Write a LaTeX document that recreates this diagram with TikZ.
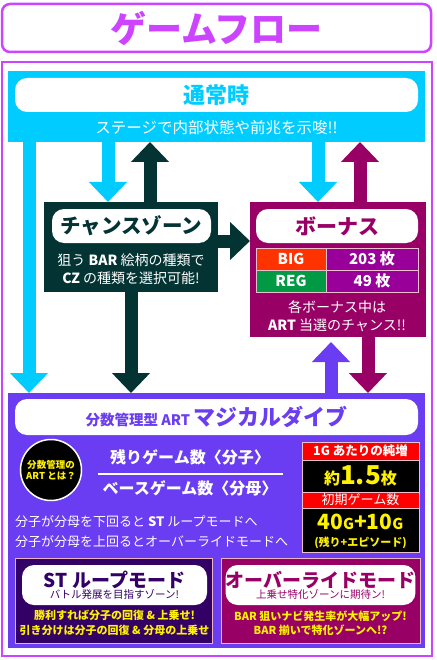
\documentclass[tikz,border=0pt]{standalone}
\usepackage{fontspec}
\setmainfont{Noto Sans CJK JP}
\usetikzlibrary{arrows.meta,positioning}
\definecolor{frame}{HTML}{CC44FF}
\definecolor{sky}{HTML}{00CCFF}
\definecolor{czdark}{HTML}{033333}
\definecolor{bonus}{HTML}{990066}
\definecolor{artpurple}{HTML}{6A3CF2}
\definecolor{stnavy}{HTML}{330066}
\definecolor{bigred}{HTML}{FF3300}
\definecolor{reggreen}{HTML}{009944}
\definecolor{cellpurple}{HTML}{990099}
\definecolor{infored}{HTML}{FF0000}
\definecolor{gold}{HTML}{FFF200}

\tikzset{
  panel/.style={inner sep=0pt,outer sep=0pt},
  tag/.style={fill=white,rounded corners=12pt,inner sep=0pt,outer sep=0pt},
  cell/.style={draw=white!75!purple,line width=0.8pt,inner sep=0pt,outer sep=0pt,text=white},
  fat/.style={line width=13pt,-{Triangle[length=20pt,width=37pt]}},
  fs/.style={font=\fontsize{#1}{\dimexpr #1pt*6/5\relax}\selectfont}
}

\begin{document}
\begin{tikzpicture}[x=1pt,y=-1pt]
  \useasboundingbox[fill=white] (0,0) rectangle (436,660);

  % title and frame
  \node[panel,draw=frame,line width=2.5pt,rounded corners=8pt,minimum width=429pt,minimum height=48pt,
        text=frame,font=\fontsize{36}{40}\selectfont\bfseries] (title) at (216.5,28) {ゲームフロー};
  \node[panel,draw=frame,line width=2.5pt,minimum width=430pt,minimum height=594pt] (frame) at (217,359) {};

  % blocks
  \node[panel,fill=sky,minimum width=417pt,minimum height=71pt] (normal) at (216.5,106.5) {};
  \node[tag,minimum width=403pt,minimum height=34pt,text=sky,font=\fontsize{22}{26}\selectfont\bfseries] (normaltag) at (216.5,95) {通常時};
  \node[text=white,fs=15.5] (normaltxt) at (216.5,128) {ステージで内部状態や前兆を示唆!!};

  \node[panel,fill=czdark,minimum width=174pt,minimum height=90pt] (cz) at (131,247) {};
  \node[tag,minimum width=159pt,minimum height=34pt,text=czdark,font=\fontsize{20.5}{24}\selectfont\bfseries] (cztag) at (131.5,226) {チャンスゾーン};
  \node[text=white,fs=14,align=center,inner sep=0pt] (cztxt) at (131,269) {狙う \textbf{BAR} 絵柄の種類で\\[1pt]\textbf{CZ} の種類を選択可能!};

  \node[panel,fill=bonus,minimum width=176pt,minimum height=135pt] (bonus) at (338,269.5) {};
  \node[tag,minimum width=162pt,minimum height=34pt,text=bonus,font=\fontsize{21}{24}\selectfont\bfseries] (bonustag) at (337,226) {ボーナス};
  \node[cell,fill=bigred,minimum width=70pt,minimum height=22pt,font=\fontsize{15}{18}\selectfont\bfseries] (bigl) at (291,259) {BIG};
  \node[cell,fill=cellpurple,minimum width=92pt,minimum height=22pt,font=\fontsize{15}{18}\selectfont\bfseries] (bigr) at (372,259) {203 枚};
  \node[cell,fill=reggreen,minimum width=70pt,minimum height=22pt,font=\fontsize{15}{18}\selectfont\bfseries] (regl) at (291,281) {REG};
  \node[cell,fill=cellpurple,minimum width=92pt,minimum height=22pt,font=\fontsize{15}{18}\selectfont\bfseries] (regr) at (372,281) {49 枚};
  \node[text=white,fs=14,align=center,inner sep=0pt] (bonustxt) at (337,316) {各ボーナス中は\\[1pt]\textbf{ART} 当選のチャンス!!};

  \node[panel,fill=artpurple,minimum width=417pt,minimum height=255pt] (art) at (216.5,520.5) {};
  \node[tag,minimum width=403pt,minimum height=36pt,text=artpurple] (arttag) at (216.5,417)
    {\fontsize{14.5}{18}\selectfont\bfseries 分数管理型 ART \fontsize{22}{26}\selectfont マジカルダイブ};

  % arrows
  \coordinate (colA) at (29,0);
  \coordinate (colB) at (108,0);
  \coordinate (colC) at (150,0);
  \coordinate (colD) at (131,0);
  \coordinate (colE) at (318,0);
  \coordinate (colF) at (360,0);
  \coordinate (colG) at (331,0);
  \coordinate (colH) at (368,0);
  \coordinate (rowA) at (0,241);
  \draw[fat,sky] (normal.south -| colA) -- (art.north -| colA);
  \draw[fat,sky] (normal.south -| colB) -- (cz.north -| colB);
  \draw[fat,czdark] (cz.north -| colC) -- (normal.south -| colC);
  \draw[fat,czdark] (cz.east |- rowA) -- (bonus.west |- rowA);
  \draw[fat,czdark] (cz.south -| colD) -- (art.north -| colD);
  \draw[fat,sky] (normal.south -| colE) -- (bonus.north -| colE);
  \draw[fat,bonus] (bonus.north -| colF) -- (normal.south -| colF);
  \draw[fat,artpurple] (art.north -| colG) -- ([yshift=-5pt]bonus.south -| colG);
  \draw[fat,bonus] (bonus.south -| colH) -- (art.north -| colH);

  % art details
  \node[circle,fill=black,draw=white,line width=1.5pt,minimum size=61pt,inner sep=0pt,text=gold,
        font=\fontsize{9.5}{11.5}\selectfont\bfseries,align=center] (artq) at (51,470) {分数管理の\\ART とは？};
  \node[text=white,font=\fontsize{16}{19}\selectfont\bfseries] (num) at (190,457) {残りゲーム数〈分子〉};
  \node[text=white,font=\fontsize{16}{19}\selectfont\bfseries] (den) at (190,488) {ベースゲーム数〈分母〉};
  \draw[white,line width=1.2pt] (98,474) -- (283,474);
  \node[text=white,fs=13,anchor=west,inner sep=0pt] (rule1) at (15,522) {分子が分母を下回ると \textbf{ST} ループモードへ};
  \node[text=white,fs=13,anchor=west,inner sep=0pt] (rule2) at (15,542) {分子が分母を上回るとオーバーライドモードへ};

  \node[cell,fill=infored,minimum width=117pt,minimum height=18pt,font=\fontsize{12.5}{15}\selectfont\bfseries] (gainhead) at (360.5,451) {1G あたりの純増};
  \node[cell,fill=black,minimum width=117pt,minimum height=32pt,text=gold,font=\bfseries] (gain) at (360.5,476)
    {\fontsize{16}{20}\selectfont 約\fontsize{26}{28}\selectfont 1.5\fontsize{16}{20}\selectfont 枚};
  \node[cell,fill=infored,minimum width=117pt,minimum height=16pt,fs=13] (inithead) at (360.5,500) {初期ゲーム数};
  \node[cell,fill=black,minimum width=117pt,minimum height=44pt,text=gold] (init) at (360.5,530) {};
  \node[text=gold,inner sep=0pt,font=\fontsize{21}{22}\selectfont\bfseries] (initnum) at (360.5,522)
    {40{\fontsize{15}{22}\selectfont G}+10{\fontsize{15}{22}\selectfont G}};
  \node[text=gold,inner sep=0pt,font=\fontsize{11}{13}\selectfont\bfseries] (initsub) at (360.5,543) {(残り+エピソード)};

  % modes
  \node[panel,fill=stnavy,draw=white!70!purple,line width=0.8pt,minimum width=197pt,minimum height=85pt] (st) at (113.5,600.5) {};
  \node[tag,minimum width=185pt,minimum height=40pt,text=stnavy,align=center] (sttag) at (114.5,585)
    {\fontsize{19}{20}\selectfont\bfseries ST ループモード\\[-1pt]\fontsize{10.5}{12}\selectfont\mdseries バトル発展を目指すゾーン!};
  \node[text=gold,font=\fontsize{11}{14.5}\selectfont\bfseries,align=center,inner sep=0pt] (sttxt) at (114.5,623)
    {勝利すれば分子の回復 \& 上乗せ!\\引き分けは分子の回復 \& 分母の上乗せ};

  \node[panel,fill=bonus,draw=white!70!purple,line width=0.8pt,minimum width=199pt,minimum height=85pt] (ov) at (320.5,600.5) {};
  \node[tag,minimum width=185pt,minimum height=40pt,text=bonus,align=center] (ovtag) at (320.5,585)
    {\fontsize{19}{20}\selectfont\bfseries オーバーライドモード\\[-1pt]\fontsize{10.5}{12}\selectfont\mdseries 上乗せ特化ゾーンに期待ン!};
  \node[text=gold,font=\fontsize{11}{14.5}\selectfont\bfseries,align=center,inner sep=0pt] (ovtxt) at (320.5,623)
    {BAR 狙いナビ発生率が大幅アップ!\\BAR 揃いで特化ゾーンへ!?};
\end{tikzpicture}
\end{document}
